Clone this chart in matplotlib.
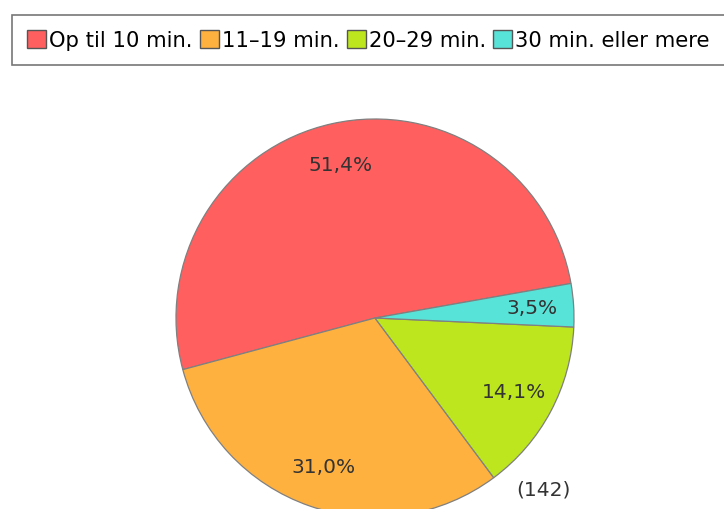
import matplotlib
matplotlib.use("Agg")
import matplotlib.pyplot as plt
from matplotlib.patches import Patch

# data
categories = ["Op til 10 min.", "11\u201319 min.", "20\u201329 min.", "30 min. eller mere"]
shares = [51.4, 31.0, 14.1, 3.5]
colors = ["#FF5F5F", "#FFB13F", "#BDE61E", "#58E3D8"]
total_n = 142

W, H = 724, 510
cx, cy, R = 375, 319, 199

fig = plt.figure(figsize=(W / 100, H / 100), dpi=100)
ax = fig.add_axes([0, 0, 1, 1])

wedges, texts, autotexts = ax.pie(
    shares,
    colors=colors,
    startangle=10,
    counterclock=True,
    autopct=lambda p: f"{p:.1f}%".replace(".", ","),
    pctdistance=0.79,
    wedgeprops=dict(edgecolor="#808080", linewidth=0.9),
    textprops=dict(fontsize=14.5, color="#333333"),
)

ax.set_aspect("auto")
ax.set_xlim(-cx / R, (W - cx) / R)
ax.set_ylim(-(H - cy) / R, cy / R)
ax.axis("off")

fig.text(543 / W, 1 - 490 / H, f"({total_n})", fontsize=14.5, color="#333333",
         ha="center", va="center")

handles = [Patch(facecolor=c, edgecolor="#555555", linewidth=1) for c in colors]
leg = fig.legend(
    handles, categories,
    loc="upper left", bbox_to_anchor=(12 / W, 1 - 16 / H),
    ncol=4, fontsize=15.2, frameon=True, fancybox=False,
    borderaxespad=0, borderpad=0.72,
    handlelength=0.9, handleheight=0.9,
    handletextpad=0.14, columnspacing=0.35,
)
leg.get_frame().set_edgecolor("#555555")
leg.get_frame().set_linewidth(1.2)

fig.savefig("out.png", dpi=100)
